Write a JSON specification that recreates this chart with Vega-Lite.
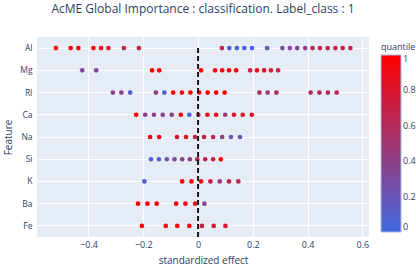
{
  "$schema": "https://vega.github.io/schema/vega-lite/v6.json",
  "width": 332,
  "height": 200,
  "autosize": {"type": "none"},
  "padding": {"left": 37, "top": 37, "right": 47, "bottom": 30},
  "title": {
    "text": "AcME Global Importance : classification. Label_class : 1",
    "fontSize": 12,
    "font": "Open Sans",
    "fontWeight": "normal",
    "color": "#2a3f5f",
    "anchor": "middle",
    "offset": 21
  },
  "config": {
    "view": {"stroke": null, "fill": "#e5ecf6"},
    "axis": {
      "grid": true,
      "gridColor": "#ffffff",
      "gridWidth": 1,
      "domain": false,
      "ticks": false,
      "labelFont": "Open Sans",
      "labelColor": "#2a3f5f",
      "labelFontSize": 9,
      "titleFont": "Open Sans",
      "titleFontWeight": "normal",
      "titleFontSize": 10,
      "titleColor": "#2a3f5f"
    },
    "legend": {
      "labelFont": "Open Sans",
      "titleFont": "Open Sans",
      "labelColor": "#2a3f5f",
      "titleColor": "#2a3f5f",
      "titleFontWeight": "normal"
    }
  },
  "layer": [
    {
      "data": {
        "values": [
          {"Feature": "Al", "effect": -0.519, "quantile": 1.0},
          {"Feature": "Al", "effect": -0.465, "quantile": 1.0},
          {"Feature": "Al", "effect": -0.437, "quantile": 0.95},
          {"Feature": "Al", "effect": -0.382, "quantile": 0.95},
          {"Feature": "Al", "effect": -0.354, "quantile": 0.92},
          {"Feature": "Al", "effect": -0.327, "quantile": 0.75},
          {"Feature": "Al", "effect": -0.271, "quantile": 0.7},
          {"Feature": "Al", "effect": -0.216, "quantile": 0.7},
          {"Feature": "Al", "effect": 0.087, "quantile": 0.65},
          {"Feature": "Al", "effect": 0.114, "quantile": 0.05},
          {"Feature": "Al", "effect": 0.142, "quantile": 0.05},
          {"Feature": "Al", "effect": 0.169, "quantile": 0.05},
          {"Feature": "Al", "effect": 0.197, "quantile": 0.05},
          {"Feature": "Al", "effect": 0.252, "quantile": 0.15},
          {"Feature": "Al", "effect": 0.308, "quantile": 0.25},
          {"Feature": "Al", "effect": 0.335, "quantile": 0.3},
          {"Feature": "Al", "effect": 0.362, "quantile": 0.35},
          {"Feature": "Al", "effect": 0.391, "quantile": 0.4},
          {"Feature": "Al", "effect": 0.418, "quantile": 0.6},
          {"Feature": "Al", "effect": 0.445, "quantile": 0.65},
          {"Feature": "Al", "effect": 0.473, "quantile": 0.65},
          {"Feature": "Al", "effect": 0.501, "quantile": 0.65},
          {"Feature": "Al", "effect": 0.528, "quantile": 0.7},
          {"Feature": "Al", "effect": 0.556, "quantile": 0.65},
          {"Feature": "Mg", "effect": -0.423, "quantile": 0.3},
          {"Feature": "Mg", "effect": -0.372, "quantile": 0.3},
          {"Feature": "Mg", "effect": -0.168, "quantile": 1.0},
          {"Feature": "Mg", "effect": -0.142, "quantile": 1.0},
          {"Feature": "Mg", "effect": 0.011, "quantile": 1.0},
          {"Feature": "Mg", "effect": 0.062, "quantile": 0.95},
          {"Feature": "Mg", "effect": 0.088, "quantile": 0.95},
          {"Feature": "Mg", "effect": 0.113, "quantile": 0.95},
          {"Feature": "Mg", "effect": 0.139, "quantile": 0.95},
          {"Feature": "Mg", "effect": 0.19, "quantile": 0.7},
          {"Feature": "Mg", "effect": 0.215, "quantile": 0.85},
          {"Feature": "Mg", "effect": 0.241, "quantile": 0.85},
          {"Feature": "Mg", "effect": 0.266, "quantile": 0.75},
          {"Feature": "Mg", "effect": 0.292, "quantile": 0.7},
          {"Feature": "RI", "effect": -0.311, "quantile": 0.4},
          {"Feature": "RI", "effect": -0.28, "quantile": 0.4},
          {"Feature": "RI", "effect": -0.248, "quantile": 0.1},
          {"Feature": "RI", "effect": -0.154, "quantile": 0.45},
          {"Feature": "RI", "effect": -0.123, "quantile": 0.1},
          {"Feature": "RI", "effect": -0.091, "quantile": 1.0},
          {"Feature": "RI", "effect": -0.059, "quantile": 1.0},
          {"Feature": "RI", "effect": -0.028, "quantile": 1.0},
          {"Feature": "RI", "effect": 0.004, "quantile": 1.0},
          {"Feature": "RI", "effect": 0.035, "quantile": 1.0},
          {"Feature": "RI", "effect": 0.066, "quantile": 1.0},
          {"Feature": "RI", "effect": 0.097, "quantile": 1.0},
          {"Feature": "RI", "effect": 0.224, "quantile": 0.6},
          {"Feature": "RI", "effect": 0.254, "quantile": 0.45},
          {"Feature": "RI", "effect": 0.286, "quantile": 0.6},
          {"Feature": "RI", "effect": 0.411, "quantile": 0.6},
          {"Feature": "RI", "effect": 0.443, "quantile": 0.6},
          {"Feature": "RI", "effect": 0.474, "quantile": 0.6},
          {"Feature": "RI", "effect": 0.506, "quantile": 0.6},
          {"Feature": "Ca", "effect": -0.226, "quantile": 1.0},
          {"Feature": "Ca", "effect": -0.193, "quantile": 0.4},
          {"Feature": "Ca", "effect": -0.161, "quantile": 0.4},
          {"Feature": "Ca", "effect": -0.129, "quantile": 0.35},
          {"Feature": "Ca", "effect": -0.096, "quantile": 0.4},
          {"Feature": "Ca", "effect": -0.063, "quantile": 0.95},
          {"Feature": "Ca", "effect": -0.032, "quantile": 0.05},
          {"Feature": "Ca", "effect": 0.001, "quantile": 0.65},
          {"Feature": "Ca", "effect": 0.034, "quantile": 0.9},
          {"Feature": "Ca", "effect": 0.066, "quantile": 0.9},
          {"Feature": "Ca", "effect": 0.099, "quantile": 0.45},
          {"Feature": "Ca", "effect": 0.131, "quantile": 0.8},
          {"Feature": "Ca", "effect": 0.163, "quantile": 0.8},
          {"Feature": "Ca", "effect": 0.196, "quantile": 0.9},
          {"Feature": "Na", "effect": -0.175, "quantile": 1.0},
          {"Feature": "Na", "effect": -0.142, "quantile": 0.95},
          {"Feature": "Na", "effect": -0.077, "quantile": 0.75},
          {"Feature": "Na", "effect": -0.044, "quantile": 0.85},
          {"Feature": "Na", "effect": -0.011, "quantile": 0.7},
          {"Feature": "Na", "effect": 0.022, "quantile": 0.7},
          {"Feature": "Na", "effect": 0.055, "quantile": 0.65},
          {"Feature": "Na", "effect": 0.088, "quantile": 0.4},
          {"Feature": "Na", "effect": 0.12, "quantile": 0.2},
          {"Feature": "Na", "effect": 0.153, "quantile": 0.2},
          {"Feature": "Si", "effect": -0.172, "quantile": 0.05},
          {"Feature": "Si", "effect": -0.143, "quantile": 0.1},
          {"Feature": "Si", "effect": -0.114, "quantile": 0.2},
          {"Feature": "Si", "effect": -0.086, "quantile": 0.3},
          {"Feature": "Si", "effect": -0.058, "quantile": 0.35},
          {"Feature": "Si", "effect": -0.03, "quantile": 0.4},
          {"Feature": "Si", "effect": -0.003, "quantile": 0.6},
          {"Feature": "Si", "effect": 0.026, "quantile": 0.65},
          {"Feature": "Si", "effect": 0.055, "quantile": 0.7},
          {"Feature": "Si", "effect": 0.083, "quantile": 1.0},
          {"Feature": "K", "effect": -0.196, "quantile": 0.1},
          {"Feature": "K", "effect": -0.058, "quantile": 1.0},
          {"Feature": "K", "effect": -0.024, "quantile": 0.95},
          {"Feature": "K", "effect": 0.011, "quantile": 0.85},
          {"Feature": "K", "effect": 0.045, "quantile": 0.7},
          {"Feature": "K", "effect": 0.079, "quantile": 0.45},
          {"Feature": "K", "effect": 0.113, "quantile": 0.65},
          {"Feature": "K", "effect": 0.147, "quantile": 0.65},
          {"Feature": "Ba", "effect": -0.219, "quantile": 1.0},
          {"Feature": "Ba", "effect": -0.185, "quantile": 1.0},
          {"Feature": "Ba", "effect": -0.151, "quantile": 0.95},
          {"Feature": "Ba", "effect": -0.08, "quantile": 0.95},
          {"Feature": "Ba", "effect": -0.046, "quantile": 0.9},
          {"Feature": "Ba", "effect": -0.011, "quantile": 0.9},
          {"Feature": "Ba", "effect": 0.023, "quantile": 0.35},
          {"Feature": "Fe", "effect": -0.205, "quantile": 1.0},
          {"Feature": "Fe", "effect": -0.118, "quantile": 0.95},
          {"Feature": "Fe", "effect": -0.076, "quantile": 1.0},
          {"Feature": "Fe", "effect": -0.032, "quantile": 0.95},
          {"Feature": "Fe", "effect": 0.014, "quantile": 0.75},
          {"Feature": "Fe", "effect": 0.057, "quantile": 0.8},
          {"Feature": "Fe", "effect": 0.1, "quantile": 0.8}
        ]
      },
      "mark": {"type": "point", "filled": true, "size": 22, "opacity": 1, "strokeWidth": 0},
      "encoding": {
        "x": {
          "field": "effect",
          "type": "quantitative",
          "scale": {"domain": [-0.588, 0.624], "nice": false, "zero": false},
          "axis": {
            "title": "standardized effect",
            "values": [-0.4, -0.2, 0, 0.2, 0.4, 0.6],
            "format": "~g",
            "labelPadding": 3,
            "titlePadding": 6
          }
        },
        "y": {
          "field": "Feature",
          "type": "nominal",
          "scale": {"domain": ["Al", "Mg", "RI", "Ca", "Na", "Si", "K", "Ba", "Fe"]},
          "axis": {"title": "Feature", "labelPadding": 5, "titlePadding": 6, "labelFontSize": 8.5}
        },
        "color": {
          "field": "quantile",
          "type": "quantitative",
          "scale": {"domain": [0, 1], "range": ["#4169e1", "#ff0000"], "interpolate": "rgb"},
          "legend": {
            "title": "quantile",
            "orient": "none",
            "legendX": 344,
            "legendY": 6,
            "direction": "vertical",
            "gradientLength": 177,
            "gradientThickness": 20,
            "gradientStrokeColor": "#aab8e0",
            "gradientStrokeWidth": 1,
            "values": [0, 0.2, 0.4, 0.6, 0.8, 1],
            "format": "~g",
            "labelFontSize": 9,
            "titleFontSize": 9,
            "titlePadding": 3,
            "labelOffset": 2,
            "labelBaseline": "middle"
          }
        }
      }
    },
    {
      "data": {"values": [{"Feature": "Al", "effect": 0}]},
      "mark": {"type": "rule", "strokeDash": [5, 3], "strokeWidth": 2, "color": "#1a1a1a"},
      "encoding": {
        "x": {"field": "effect", "type": "quantitative"},
        "y": {"field": "Feature", "type": "nominal"},
        "y2": {"value": "height"}
      }
    }
  ]
}
